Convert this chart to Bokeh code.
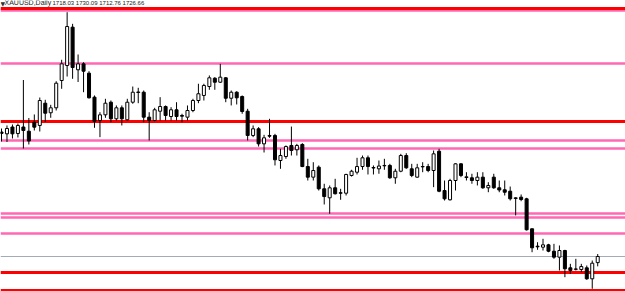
from bokeh.plotting import figure
from bokeh.models import Range1d, Label, ColumnDataSource
from bokeh.embed import file_html
from bokeh.resources import INLINE

# XAUUSD daily candles, oldest first
opens = [1902.2, 1899.6, 1909.2, 1900.1, 1909.2, 1903.3, 1916.0, 1911.4, 1942.8, 1929.3,
         1936.3, 1974.8, 1995.9, 2050.0, 1989.9, 1998.3, 1985.1, 1951.3, 1918.4, 1926.4,
         1944.2, 1920.8, 1936.3, 1919.4, 1944.2, 1957.9, 1958.3, 1923.1, 1918.4, 1931.5,
         1938.1, 1924.0, 1933.5, 1925.5, 1923.1, 1932.5, 1946.6, 1953.7, 1966.3, 1978.0,
         1972.4, 1978.6, 1949.8, 1958.3, 1952.2, 1931.5, 1897.3, 1906.7, 1885.5, 1897.3,
         1897.3, 1862.0, 1867.6, 1883.2, 1877.1, 1884.6, 1853.5, 1838.5, 1852.6, 1822.1,
         1809.4, 1823.5, 1816.5, 1815.9, 1840.9, 1845.5, 1853.5, 1865.8, 1852.1, 1850.3,
         1854.5, 1855.0, 1837.6, 1846.9, 1869.0, 1850.3, 1838.5, 1853.5, 1853.5, 1847.9,
         1875.1, 1819.7, 1806.6, 1833.8, 1857.3, 1838.0, 1837.6, 1833.8, 1838.5, 1823.5,
         1838.5, 1823.5, 1820.7, 1818.7, 1808.4, 1810.3, 1808.0, 1765.7, 1741.2, 1739.8,
         1743.1, 1734.1, 1725.7, 1735.1, 1710.7, 1709.0, 1708.3, 1710.7, 1695.2, 1718.03]
highs = [1907.1, 1911.4, 1912.8, 1914.2, 1975.5, 1921.9, 1926.9, 1950.8, 1947.6, 1940.5,
         1973.8, 2004.0, 2071.1, 2054.7, 2011.5, 2000.6, 1987.9, 1953.7, 1930.1, 1949.0,
         1946.6, 1939.6, 1939.6, 1949.0, 1966.3, 1964.5, 1960.7, 1930.1, 1936.3, 1951.3,
         1939.6, 1937.2, 1944.2, 1927.9, 1939.6, 1949.0, 1970.2, 1970.2, 1981.9, 1979.5,
         1998.3, 1979.5, 1960.7, 1959.7, 1953.7, 1934.9, 1911.4, 1909.0, 1898.2, 1920.8,
         1899.6, 1878.5, 1883.2, 1909.9, 1885.5, 1886.4, 1864.4, 1859.6, 1855.0, 1829.2,
         1826.8, 1836.2, 1822.1, 1843.3, 1848.9, 1865.8, 1869.0, 1869.0, 1855.0, 1862.0,
         1864.4, 1857.3, 1850.3, 1871.4, 1872.3, 1857.3, 1857.3, 1859.6, 1857.3, 1876.1,
         1878.5, 1833.8, 1836.2, 1858.2, 1858.2, 1845.5, 1843.3, 1845.5, 1845.5, 1831.4,
         1843.3, 1833.8, 1833.8, 1825.3, 1810.3, 1814.1, 1809.4, 1766.1, 1746.8, 1751.6,
         1744.5, 1744.5, 1742.2, 1736.1, 1716.3, 1723.4, 1716.3, 1714.0, 1721.0, 1730.09]
lows = [1888.8, 1888.1, 1893.0, 1894.4, 1878.9, 1884.6, 1904.3, 1902.9, 1916.3, 1922.2,
        1932.5, 1963.1, 1980.4, 1977.2, 1972.7, 1958.3, 1949.4, 1908.1, 1894.9, 1922.2,
        1916.0, 1918.4, 1911.4, 1918.4, 1942.0, 1942.8, 1916.0, 1890.2, 1917.4, 1918.4,
        1918.4, 1918.4, 1918.4, 1916.0, 1918.4, 1930.1, 1942.8, 1946.6, 1961.7, 1961.7,
        1971.3, 1944.2, 1939.6, 1941.0, 1927.9, 1890.2, 1894.9, 1881.7, 1873.3, 1894.0,
        1855.0, 1850.3, 1864.4, 1869.0, 1869.0, 1852.6, 1833.8, 1833.8, 1819.7, 1800.0,
        1786.9, 1814.1, 1806.6, 1812.7, 1839.4, 1842.3, 1848.9, 1842.3, 1842.3, 1843.3,
        1848.9, 1836.2, 1829.2, 1845.5, 1850.3, 1838.5, 1837.6, 1845.5, 1845.5, 1824.4,
        1817.3, 1805.6, 1805.6, 1819.7, 1838.5, 1833.8, 1829.2, 1826.8, 1822.1, 1817.3,
        1822.1, 1817.3, 1812.7, 1805.6, 1784.5, 1804.6, 1763.3, 1732.7, 1736.1, 1735.1,
        1732.7, 1723.4, 1706.9, 1697.5, 1702.2, 1706.9, 1704.5, 1693.8, 1681.1, 1712.76]
closes = [1900.1, 1907.1, 1899.6, 1911.4, 1904.3, 1889.5, 1909.0, 1946.6, 1928.7, 1936.3,
          1971.0, 1998.3, 2050.9, 1993.1, 1998.3, 1987.9, 1950.4, 1917.4, 1926.4, 1942.8,
          1920.8, 1936.3, 1920.8, 1944.2, 1958.3, 1958.6, 1923.1, 1918.4, 1933.5, 1938.1,
          1925.5, 1933.5, 1924.0, 1924.5, 1932.5, 1946.6, 1956.1, 1967.8, 1978.6, 1972.4,
          1979.5, 1949.8, 1958.3, 1950.4, 1931.1, 1897.3, 1906.7, 1885.5, 1894.0, 1896.3,
          1863.0, 1869.0, 1881.7, 1876.1, 1883.2, 1853.5, 1838.5, 1847.9, 1822.1, 1811.2,
          1823.5, 1815.1, 1815.9, 1842.3, 1846.9, 1853.5, 1865.8, 1853.5, 1851.4, 1854.2,
          1855.0, 1837.6, 1846.9, 1869.0, 1851.7, 1840.9, 1851.7, 1853.1, 1847.9, 1871.4,
          1818.7, 1808.0, 1833.8, 1857.3, 1840.9, 1839.0, 1833.8, 1838.5, 1823.5, 1826.8,
          1823.5, 1820.4, 1817.3, 1808.0, 1809.4, 1807.0, 1764.3, 1738.9, 1740.3, 1743.1,
          1734.1, 1725.7, 1735.1, 1709.3, 1706.9, 1708.7, 1712.5, 1695.2, 1717.2, 1726.66]

red_levels = [2077.0, 1917.0, 1703.6, 1679.4]
pink_levels = [2072.8, 1999.0, 1890.5, 1879.2, 1787.7, 1781.2, 1759.3]
bid_level = [1726.66]
title_text = "XAUUSD,Daily"
ohlc_text = "1718.03 1730.09 1712.76 1726.66"

n = len(opens)
idx = list(range(n))
body_bottom = []
body_top = []
fills = []
for o, c in zip(opens, closes):
    lo_, hi_ = min(o, c), max(o, c)
    if hi_ - lo_ < 0.4:
        mid = (hi_ + lo_) / 2
        lo_, hi_ = mid - 0.2, mid + 0.2
    body_bottom.append(lo_)
    body_top.append(hi_)
    fills.append("white" if c > o else "black")

src = ColumnDataSource(dict(x=idx, o=opens, h=highs, l=lows, c=closes,
                            bb=body_bottom, bt=body_top, fill=fills))

p = figure(width=625, height=291, x_range=Range1d(-0.183, 114.08),
           y_range=Range1d(1677.3, 2087.6), output_backend="svg",
           toolbar_location=None, x_axis_location=None, y_axis_location=None,
           min_border=0, min_border_left=0, min_border_right=0,
           min_border_top=0, min_border_bottom=0)
p.grid.visible = False
p.outline_line_color = None
p.background_fill_color = "white"
p.border_fill_color = "white"

# horizontal levels
p.hspan(y=bid_level, line_color="#a3abb6", line_width=1)
p.hspan(y=pink_levels, line_color="#ff69b4", line_width=2.5)
p.hspan(y=red_levels, line_color="#ff0000", line_width=3)

# candles
p.segment(x0="x", y0="l", x1="x", y1="h", source=src, line_color="black", line_width=1)
p.vbar(x="x", bottom="bb", top="bt", width=0.55, source=src,
       fill_color="fill", line_color="black", line_width=1)

p.add_layout(Label(x=0, y=285, x_units="screen", y_units="screen", text="\u25bc",
                   text_font_size="6px", text_color="#333333", text_font="DejaVu Sans"))
p.add_layout(Label(x=4, y=286, x_units="screen", y_units="screen", text=title_text,
                   text_font_size="7px", text_color="#222222", text_font="Liberation Sans"))
p.add_layout(Label(x=52, y=286, x_units="screen", y_units="screen", text=ohlc_text,
                   text_font_size="6px", text_color="#222222", text_font="Liberation Sans"))

open("out.html", "w").write(file_html(p, INLINE))
